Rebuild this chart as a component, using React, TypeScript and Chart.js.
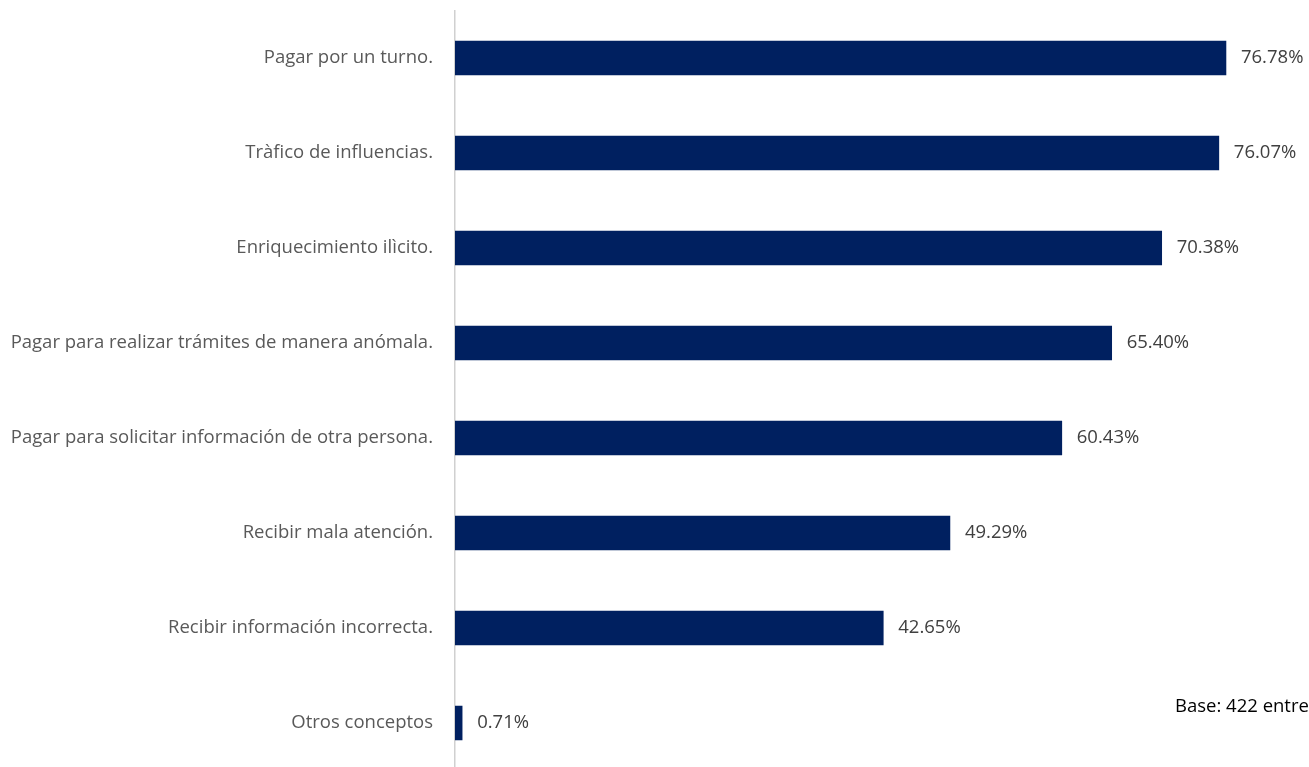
import React, { useEffect, useRef } from "react";
import { Chart, registerables } from "chart.js";

Chart.register(...registerables);

const categories = [
  "Pagar por un turno.",
  "Tràfico de influencias.",
  "Enriquecimiento ilìcito.",
  "Pagar para realizar trámites de manera anómala.",
  "Pagar para solicitar información de otra persona.",
  "Recibir mala atención.",
  "Recibir información incorrecta.",
  "Otros conceptos",
];
const values = [76.78, 76.07, 70.38, 65.4, 60.43, 49.29, 42.65, 0.71];
const baseNote = "Base: 422 entrevistas";

const FONT = "'Open Sans', 'DejaVu Sans', sans-serif";
const FONT_SIZE = 18.5;

const valueLabels = {
  id: "valueLabels",
  afterDatasetsDraw(chart: any) {
    const ctx = chart.ctx;
    const meta = chart.getDatasetMeta(0);
    ctx.save();
    ctx.font = `${FONT_SIZE}px ${FONT}`;
    ctx.fillStyle = "#404040";
    ctx.textAlign = "left";
    ctx.textBaseline = "middle";
    meta.data.forEach((bar: any, i: number) => {
      ctx.fillText(`${values[i].toFixed(2)}%`, bar.x + 15, bar.y);
    });
    ctx.fillStyle = "#000000";
    const last = meta.data[meta.data.length - 1];
    ctx.fillText(baseNote, 1175, last.y - 16);
    ctx.restore();
  },
};

export default function App() {
  const ref = useRef<HTMLCanvasElement | null>(null);
  useEffect(() => {
    document.body.style.margin = "0";
    document.body.style.overflow = "hidden";
    if (!ref.current) return;
    const chart = new Chart(ref.current, {
      type: "bar",
      data: {
        labels: categories,
        datasets: [
          {
            data: values,
            backgroundColor: "#002060",
            borderWidth: 0,
            barThickness: 34,
          },
        ],
      },
      options: {
        indexAxis: "y",
        animation: false,
        responsive: false,
        maintainAspectRatio: false,
        layout: { padding: { top: 10.5, bottom: 0.5, right: 0.5, left: 0 } },
        plugins: {
          legend: { display: false },
          tooltip: { enabled: false },
        },
        scales: {
          x: {
            display: false,
            min: 0,
            max: 85,
          },
          y: {
            afterFit(scale: any) {
              scale.width = 455;
              scale.paddingTop = 0;
              scale.paddingBottom = 0;
            },
            grid: { display: false, drawTicks: false },
            border: { display: true, color: "#d0d0d0", width: 1.5 },
            ticks: {
              padding: 22,
              color: "#595959",
              font: { family: FONT, size: FONT_SIZE },
            },
          },
        },
      },
      plugins: [valueLabels],
    });
    return () => chart.destroy();
  }, []);
  return (
    <div
      style={{
        position: "fixed",
        left: 0,
        top: 0,
        width: 1309,
        height: 767,
        overflow: "hidden",
        background: "#ffffff",
      }}
    >
      <canvas ref={ref} width={1309} height={771} style={{ display: "block" }} />
    </div>
  );
}
